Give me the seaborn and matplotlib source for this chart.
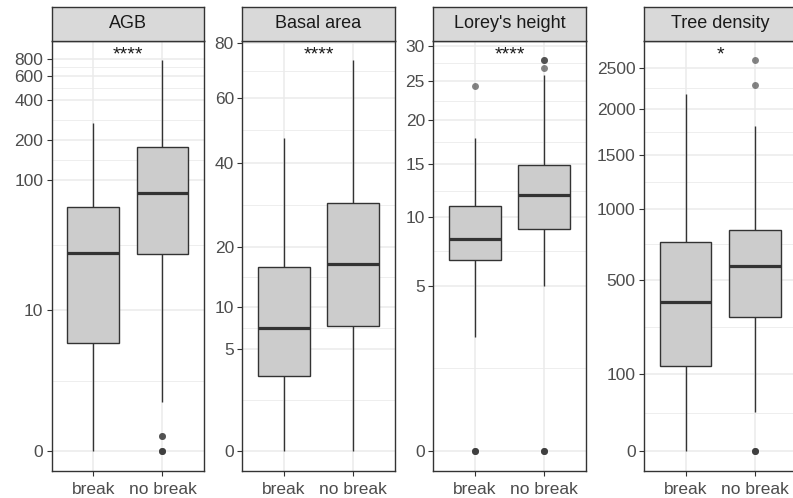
import numpy as np
import pandas as pd
import matplotlib
matplotlib.use("Agg")
import matplotlib.pyplot as plt
import seaborn as sns

# ---------------- data ----------------
panel_titles = ["AGB", "Basal area", "Lorey's height", "Tree density"]
groups = ["break", "no break"]
signif_labels = ["****", "****", "****", "*"]

# box summaries: [lower whisker, Q1, median, Q3, upper whisker]
agb_break_box = [0, 5.3, 28.2, 62.8, 268]
agb_nobreak_box = [1.31, 27.6, 80.5, 178, 783]
agb_break_out = []
agb_nobreak_out = [0.29, 0.29, 0, 0, 0]

basal_break_box = [0, 2.71, 7.26, 16.25, 47.2]
basal_nobreak_box = [0, 7.5, 16.9, 29.7, 73.5]
basal_break_out = []
basal_nobreak_out = []

height_break_box = [2.36, 6.68, 8.23, 10.93, 17.9]
height_nobreak_box = [5.0, 9.0, 11.97, 14.9, 25.8]
height_break_out = [24.4, 0, 0, 0]
height_nobreak_out = [27.9, 27.9, 26.8, 0, 0, 0]

density_break_box = [0, 124, 379, 743, 2179]
density_nobreak_box = [26.2, 305, 581, 831, 1800]
density_break_out = []
density_nobreak_out = [2606, 2282, 0, 0, 0]

agb_ticks = [0, 10, 100, 200, 400, 600, 800]
basal_ticks = [0, 5, 10, 20, 40, 60, 80]
height_ticks = [0, 5, 10, 15, 20, 25, 30]
density_ticks = [0, 100, 500, 1000, 1500, 2000, 2500]


def log1p10(v):
    return np.log10(np.asarray(v, dtype=float) + 1)


def sqrt_t(v):
    return np.sqrt(np.asarray(v, dtype=float))


panels = [
    (agb_break_box, agb_break_out, agb_nobreak_box, agb_nobreak_out, agb_ticks, log1p10),
    (basal_break_box, basal_break_out, basal_nobreak_box, basal_nobreak_out, basal_ticks, sqrt_t),
    (height_break_box, height_break_out, height_nobreak_box, height_nobreak_out, height_ticks, sqrt_t),
    (density_break_box, density_break_out, density_nobreak_box, density_nobreak_out, density_ticks, sqrt_t),
]


def sample_from_summary(box, outliers, k=8):
    """Expand a read box summary into a sample reproducing those quartiles."""
    lo, q1, med, q3, hi = box
    lows = sorted([o for o in outliers if o < lo])
    highs = sorted([o for o in outliers if o > hi])
    L, H = len(lows), len(highs)
    s = (lows + [lo] + [q1] * (k - L) + [med] * k + [q3] * k
         + [q3] * (k - H - 1) + [hi] + highs)
    return s


# ---------------- style ----------------
sns.set_theme(style="white")
plt.rcParams["font.family"] = ["Liberation Sans", "DejaVu Sans"]

W, H = 793, 498
fig = plt.figure(figsize=(W / 100, H / 100), dpi=100)
fig.patch.set_facecolor("white")

panel_lefts = [51.7, 242.3, 433.3, 644.0]
panel_w = 152.3
strip_top, panel_top, panel_bot = 6.7, 40.7, 470.5

for i, (bbox, bout, nbox, nout, ticks, tf) in enumerate(panels):
    left = panel_lefts[i]
    ax = fig.add_axes([left / W, 1 - panel_bot / H, panel_w / W,
                       (panel_bot - panel_top) / H])
    vals_b = sample_from_summary(bbox, bout)
    vals_n = sample_from_summary(nbox, nout)
    df = pd.DataFrame({
        "group": [groups[0]] * len(vals_b) + [groups[1]] * len(vals_n),
        "value": tf(vals_b + vals_n),
    })
    sns.boxplot(data=df, x="group", y="value", order=groups, ax=ax,
                width=0.75, color="#CCCCCC", saturation=1,
                linecolor="#333333", linewidth=1.0, showcaps=False,
                whis=1.5, fliersize=5,
                medianprops=dict(linewidth=2.3, color="#333333"),
                zorder=3)
    for ln in ax.lines:
        if ln.get_linestyle() in ("None", "none", " ", ""):
            ln.set_marker("o")
            ln.set_markersize(5)
            ln.set_markerfacecolor("#333333")
            ln.set_markeredgecolor("none")
            ln.set_alpha(0.6)

    allv = tf(vals_b + vals_n)
    lo_, hi_ = allv.min(), allv.max()
    pad = 0.05 * (hi_ - lo_)
    ax.set_xlim(-0.6, 1.6)
    ax.set_ylim(lo_ - pad, hi_ + pad)

    tpos = tf(ticks)
    ax.set_yticks(tpos)
    ax.set_yticklabels([str(t) for t in ticks])
    minors = (tpos[:-1] + tpos[1:]) / 2
    ax.set_yticks(minors, minor=True)
    ax.tick_params(axis="y", which="minor", length=0)
    ax.set_xticks([0, 1])
    ax.set_xticklabels(groups)

    ax.set_axisbelow(True)
    ax.grid(True, which="major", axis="both", color="#EBEBEB", linewidth=1.1)
    ax.grid(True, which="minor", axis="y", color="#EBEBEB", linewidth=0.6)
    ax.set_xlabel("")
    ax.set_ylabel("")
    ax.set_facecolor("white")
    for sp in ax.spines.values():
        sp.set_color("#333333")
        sp.set_linewidth(1.0)
        sp.set_visible(True)
    ax.tick_params(axis="both", which="major", length=3.5, width=0.8,
                   color="#333333", labelcolor="#4D4D4D", labelsize=12.5,
                   left=True, bottom=True)
    ax.tick_params(axis="y", which="major", pad=2.5)
    ax.tick_params(axis="x", which="major", pad=4.5)

    ax.text(0.5, 0.966, signif_labels[i], transform=ax.get_xaxis_transform(),
            ha="center", va="center", fontsize=14, color="#1A1A1A")

    sax = fig.add_axes([left / W, 1 - panel_top / H, panel_w / W,
                        (panel_top - strip_top) / H])
    sax.set_facecolor("#D9D9D9")
    sax.set_xticks([])
    sax.set_yticks([])
    for sp in sax.spines.values():
        sp.set_color("#333333")
        sp.set_linewidth(1.0)
        sp.set_visible(True)
    sax.text(0.5, 0.5, panel_titles[i], ha="center", va="center",
             fontsize=13, color="#1A1A1A", transform=sax.transAxes)

fig.savefig("out.png", dpi=100, facecolor="white")
